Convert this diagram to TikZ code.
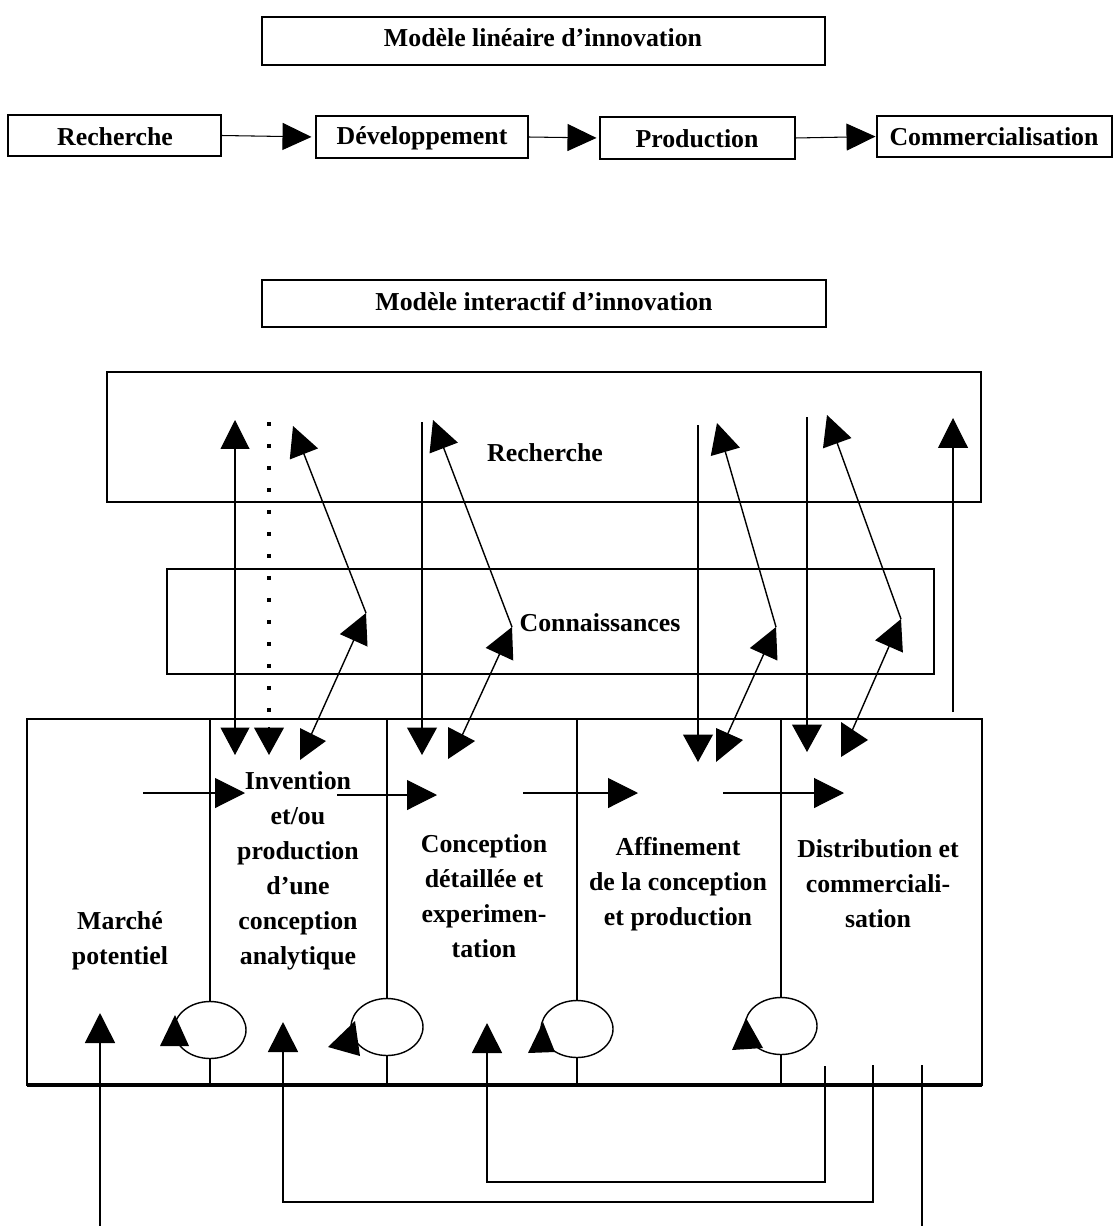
\documentclass[tikz,border=0pt]{standalone}
\usepackage{fontspec}
\setmainfont{Liberation Serif}
\usetikzlibrary{arrows.meta,fit,shapes.geometric}
\begin{document}
\begin{tikzpicture}[x=0.02cm,y=-0.02cm,
  every node/.style={font=\fontsize{14.7pt}{19.9pt}\selectfont\bfseries,inner sep=0pt,outer sep=0pt},
  box/.style={draw,line width=1.1pt},
  ell/.style={draw,ellipse,line width=0.8pt,minimum width=1.44cm,minimum height=1.14cm},
  thinl/.style={line width=0.6pt},
  slant/.style={line width=0.8pt},
  tipl/.style={-{Triangle[length=0.58cm,width=0.54cm]}},
  tipa/.style={-{Triangle[length=0.6cm,width=0.6cm]}},
  tipd/.style={-{Triangle[length=0.55cm,width=0.6cm]}},
  dottedl/.style={line width=0.075cm,dash pattern=on 0.08cm off 0.36cm},
  fb/.style={line width=0.9pt},
]
\path[use as bounding box,clip] (0,0) rectangle (1118,1226);

% ---------- linear model ----------
\node[box,fit={(262,17) (825,65)}] (t1) {};
\node (t1txt) at (543,38) {Modèle linéaire d'innovation};
\node[box,fit={(8,115) (221,156)}] (lR) {};
\node (lRtxt) at (115,137) {Recherche};
\node[box,fit={(316,116) (528,158)}] (lD) {};
\node (lDtxt) at (422,138) {Développement};
\node[box,fit={(600,117) (795,159)}] (lP) {};
\node (lPtxt) at (697,139) {Production};
\node[box,fit={(877,116) (1112,157)}] (lC) {};
\node (lCtxt) at (994,137) {Commercialisation};
\draw[thinl,tipl,shorten >=0.09cm] (lR.east) -- (lD.west);
\draw[thinl,tipl,shorten >=0.07cm] (lD.east) -- (lP.west);
\draw[thinl,tipl,shorten >=0.03cm] (lP.east) -- (lC.west);

% ---------- interactive model ----------
\node[box,fit={(262,280) (826,327)}] (t2) {};
\node (t2txt) at (544,302) {Modèle interactif d'innovation};

\node[box,fit={(107,372) (981,502)}] (rech) {};
\node (rechtxt) at (545,453) {Recherche};
\node[box,fit={(167,569) (934,674)}] (conn) {};
\node (conntxt) at (600,623) {Connaissances};
\node[box,fit={(27,719) (982,1085)}] (low) {};
\draw[line width=2pt] (low.south west) -- (low.south east);

% texts in the lower box
\node[align=center] (marche) at (120,941) {Marché\\potentiel};
\node[align=center] (inv) at (298,871) {Invention\\et/ou\\production\\d'une\\conception\\analytique};
\node[align=center] (concep) at (484,896) {Conception\\détaillée et\\experimen-\\tation};
\node[align=center] (affin) at (678,884) {Affinement\\de la conception\\et production};
\node[align=center] (distr) at (878,884) {Distribution et\\commerciali-\\sation};

% ellipses and column dividers
\node[ell] (e1) at (210,1030) {};
\node[ell] (e2) at (387,1027) {};
\node[ell] (e3) at (577,1029) {};
\node[ell] (e4) at (781,1026) {};
\draw[line width=0.6pt] (e1.north |- low.north) -- (e1.north);
\draw[line width=0.6pt] (e1.south) -- (e1.south |- low.south);
\draw[line width=1.1pt] (e2.north |- low.north) -- (e2.north);
\draw[line width=0.6pt] (e2.south) -- (e2.south |- low.south);
\draw[line width=0.9pt] (e3.north |- low.north) -- (e3.north);
\draw[line width=0.6pt] (e3.south) -- (e3.south |- low.south);
\draw[line width=0.6pt] (e4.north |- low.north) -- (e4.north);
\draw[line width=0.6pt] (e4.south) -- (e4.south |- low.south);

% arrowheads on the ellipses
\fill (175,1015) -- (160,1046) -- (189,1046) -- cycle;
\fill (355,1021) -- (328,1047) -- (360,1056) -- cycle;
\fill (543,1022) -- (528,1053) -- (555,1052) -- cycle;
\fill (746,1018) -- (732,1050) -- (763,1048) -- cycle;

% coordinates
\coordinate (v1b) at (235,755); \coordinate (v1t) at (235,420);
\coordinate (v2t) at (269,422); \coordinate (v2b) at (269,755);
\coordinate (v3t) at (422,422); \coordinate (v3b) at (422,755);
\coordinate (v4t) at (698,425); \coordinate (v4b) at (698,762);
\coordinate (v5t) at (807,417); \coordinate (v5b) at (807,752);
\coordinate (v6b) at (953,712); \coordinate (v6t) at (953,418);
\coordinate (h1s) at (143,793); \coordinate (h1e) at (245,793);
\coordinate (h2s) at (337,795); \coordinate (h2e) at (437,795);
\coordinate (h3s) at (523,793); \coordinate (h3e) at (638,793);
\coordinate (h4s) at (723,793); \coordinate (h4e) at (844,793);
\coordinate (s1l) at (307,744); \coordinate (s1m) at (366,613); \coordinate (s1r) at (293,426);
\coordinate (s2l) at (460,740); \coordinate (s2m) at (512,627); \coordinate (s2r) at (433,420);
\coordinate (s3l) at (724,742); \coordinate (s3m) at (776,627); \coordinate (s3r) at (717,423);
\coordinate (s4l) at (848,740); \coordinate (s4m) at (901,619); \coordinate (s4r) at (827,415);
\coordinate (f1s) at (922,1065); \coordinate (f1y) at (500,1236); \coordinate (f1t) at (100,1013);
\coordinate (f2s) at (873,1065); \coordinate (f2y) at (500,1202); \coordinate (f2t) at (283,1022);
\coordinate (f3s) at (825,1066); \coordinate (f3y) at (600,1182); \coordinate (f3t) at (487,1023);

% vertical connectors
\draw[thinl,{Triangle[length=0.55cm,width=0.58cm]}-{Triangle[length=0.58cm,width=0.58cm]}] (v1b) -- (v1t);
\draw[dottedl] (v2t) -- ([yshift=0.5cm]v2b);
\draw[thinl,tipd] ([yshift=0.56cm]v2b) -- (v2b);
\draw[thinl,tipd] (v3t) -- (v3b);
\draw[thinl,tipd] (v4t) -- (v4b);
\draw[thinl,tipd] (v5t) -- (v5b);
\draw[thinl,tipa] (v6b) -- (v6t);

% horizontal connectors
\draw[thinl,tipa] (h1s) -- (h1e);
\draw[thinl,tipa] (h2s) -- (h2e);
\draw[thinl,tipa] (h3s) -- (h3e);
\draw[thinl,tipa] (h4s) -- (h4e);

% slanted connectors
\draw[slant,tipa] (s1l) -- (s1m);
\draw[slant,tipa] (s1m) -- (s1r);
\draw[slant,tipa] (s2l) -- (s2m);
\draw[slant,tipa] (s2m) -- (s2r);
\draw[slant,tipa] (s3l) -- (s3m);
\draw[slant,tipa] (s3m) -- (s3r);
\draw[slant,tipa] (s4l) -- (s4m);
\draw[slant,tipa] (s4m) -- (s4r);
\fill (300,728) -- (300,760) -- (326,741) -- cycle;
\fill (448,727) -- (448,759) -- (475,741) -- cycle;
\fill (716,728) -- (716,762) -- (743,740) -- cycle;
\fill (841,722) -- (841,757) -- (868,740) -- cycle;

% feedback loops
\draw[fb,tipa] (f1s) |- (f1y) -| (f1t);
\draw[fb,tipa] (f2s) |- (f2y) -| (f2t);
\draw[fb,tipa] (f3s) |- (f3y) -| (f3t);
\end{tikzpicture}
\end{document}
